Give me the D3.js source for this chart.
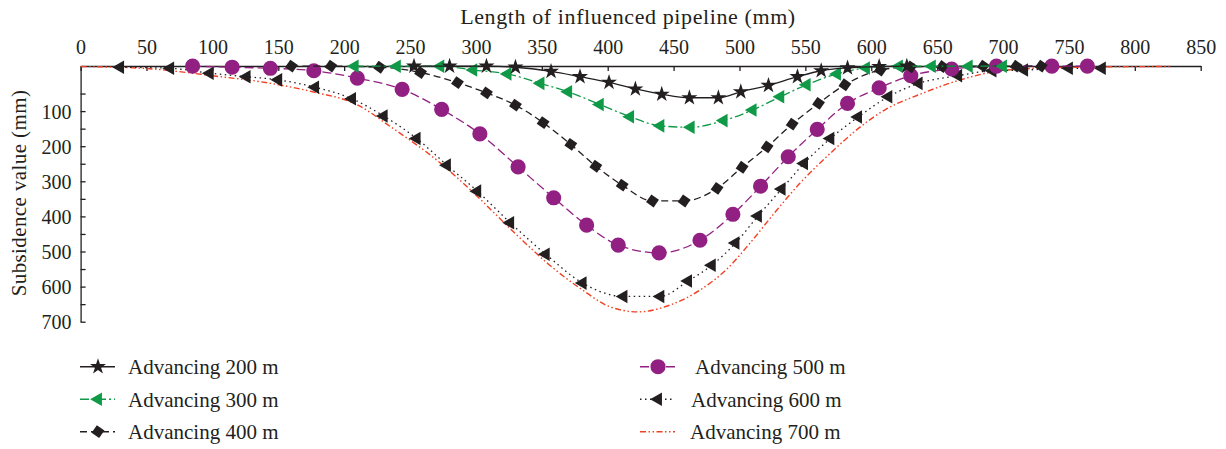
<!DOCTYPE html>
<html>
<head>
<meta charset="utf-8">
<script src="https://cdn.jsdelivr.net/npm/d3@7"></script>
<style>
  body { margin: 0; background: #fff; }
  svg { display: block; }
  text { font-family: "Liberation Serif", "DejaVu Serif", serif; fill: #231f20; }
</style>
</head>
<body>
<script>
// values (x: mm along pipeline, y: subsidence mm as on the labelled axis)
var xTicks = [0, 50, 100, 150, 200, 250, 300, 350, 400, 450, 500, 550, 600, 650, 700, 750, 800, 850];
var yTicks = [50, 100, 150, 200, 250, 300, 350, 400, 450, 500, 550, 600, 650, 700];
var seriesNames = ["Advancing 200 m", "Advancing 300 m", "Advancing 400 m",
                   "Advancing 500 m", "Advancing 600 m", "Advancing 700 m"];

var adv200X = [253, 280, 308, 330, 357, 379, 401, 421, 441, 462, 484, 501, 522, 544, 562, 582, 606, 627];
var adv200Y = [-28, -28, -28, -25, -13, 2, 18, 37, 52, 62, 62, 45, 27, 2, -15, -23, -27, -28];

var adv300X = [208, 240, 273, 298, 324, 349, 370, 394, 417, 440, 463, 488, 510, 531, 551, 574, 596, 621, 646, 674, 700];
var adv300Y = [-28, -28, -28, -17, -6, 21, 45, 81, 116, 142, 146, 127, 97, 59, 25, -6, -23, -28, -28, -28, -28];

var adv400X = [160, 190, 227, 258, 286, 308, 330, 351, 372, 391, 411, 434, 458, 483, 502, 521, 540, 560, 580, 607, 630, 654, 685, 710, 729];
var adv400Y = [-28, -28, -25, -10, 19, 48, 83, 133, 195, 257, 311, 356, 356, 320, 260, 202, 137, 78, 25, -17, -26, -27, -28, -28, -28];

var adv500X = [85, 115, 144, 177, 210, 244, 274, 303, 332, 359, 384, 408, 439, 470, 495, 516, 537, 559, 582, 606, 630, 661, 695, 737, 764];
var adv500Y = [-28, -25, -22, -15, 6, 38, 95, 165, 259, 347, 425, 482, 504, 468, 394, 314, 230, 152, 78, 34, -1, -20, -28, -28, -28];

var adv600X = [30, 68, 98, 126, 150, 178, 206, 230, 255, 278, 301, 326, 353, 381, 412, 440, 461, 479, 497, 514, 532, 549, 569, 590, 613, 636, 666, 692, 716, 750, 775];
var adv600Y = [-25, -22, -8, 2, 11, 32, 65, 114, 178, 254, 328, 418, 508, 590, 628, 628, 584, 539, 476, 399, 322, 249, 178, 117, 59, 21, -1, -15, -17, -22, -22];

var adv700X = [0, 47, 106, 136, 176, 210, 235, 273, 296, 331, 356, 381, 402, 423, 447, 470, 491, 508, 527, 546, 569, 590, 611, 637, 665, 690, 723, 774, 827];
var adv700Y = [-27, -22, 2, 16, 45, 82, 144, 248, 325, 453, 539, 610, 658, 672, 653, 610, 548, 476, 388, 305, 220, 150, 95, 52, 14, -10, -22, -26, -27];

function draw() {
    var w = 1226;
    var h = 449;
    var svg = d3.select("body")
        .append("svg")
        .attr("width", w)
        .attr("height", h);

    var x = d3.scaleLinear().domain([0, 850]).range([80.6, 1200.7]);
    // the labelled axis starts a little above zero, as in the source figure
    var y = d3.scaleLinear().domain([-28.5, 700]).range([66, 321.7]);

    var ink = "#231f20";
    var styles = [
        { xs: adv200X, ys: adv200Y, color: ink, dash: null, marker: "star" },
        { xs: adv300X, ys: adv300Y, color: "#109a48", dash: "9,3,2,3", marker: "tri" },
        { xs: adv400X, ys: adv400Y, color: ink, dash: "7,4", marker: "diamond" },
        { xs: adv500X, ys: adv500Y, color: "#921f82", dash: "9,4", marker: "circle" },
        { xs: adv600X, ys: adv600Y, color: ink, dash: "1.5,3.5", marker: "tri" },
        { xs: adv700X, ys: adv700Y, color: "#ef4123", dash: "6,2.5,1.5,2.5,1.5,2.5", marker: null }
    ];

    // axes
    var xAxis = d3.axisTop(x).tickValues(xTicks).tickSizeInner(-5).tickSizeOuter(0).tickPadding(12);
    var gx = svg.append("g").attr("transform", "translate(0,66)").call(xAxis);
    gx.selectAll("text").style("font-size", "20px").attr("fill", ink);

    var yAxis = d3.axisLeft(y).tickValues(yTicks).tickSizeInner(-5).tickSizeOuter(0).tickPadding(9)
        .tickFormat(function(d) { return d % 100 === 0 ? d : ""; });
    var gy = svg.append("g").attr("transform", "translate(80.6,0)").call(yAxis);
    gy.selectAll("text").style("font-size", "20px").attr("fill", ink).attr("dy", "0.35em");

    svg.selectAll(".domain, .tick line").attr("stroke", ink).attr("stroke-width", 1.3);

    svg.append("text")
        .attr("x", 628).attr("y", 24)
        .attr("text-anchor", "middle")
        .style("font-size", "22px")
        .style("letter-spacing", "0.6px")
        .text("Length of influenced pipeline (mm)");

    svg.append("text")
        .attr("transform", "translate(26,193) rotate(-90)")
        .attr("text-anchor", "middle")
        .style("font-size", "21px")
        .style("letter-spacing", "0.4px")
        .text("Subsidence value (mm)");

    var line = d3.line().curve(d3.curveMonotoneX);

    function markerPath(kind) {
        if (kind === "star") return d3.symbol(d3.symbolStar, 80)();
        if (kind === "tri") return d3.symbol(d3.symbolTriangle, 80)();
        if (kind === "diamond") return d3.symbol(d3.symbolSquare, 85)();
        if (kind === "circle") return d3.symbol(d3.symbolCircle, 180)();
        return null;
    }
    function markerRot(kind) {
        if (kind === "tri") return -90;
        if (kind === "diamond") return 35;
        return 0;
    }

    // draw series from the last to the first so the earlier ones sit on top
    styles.slice().reverse().forEach(function(s) {
        var pts = s.xs.map(function(v, i) { return [x(v), y(s.ys[i])]; });
        svg.append("path")
            .attr("d", line(pts))
            .attr("fill", "none")
            .attr("stroke", s.color)
            .attr("stroke-width", s.marker === null ? 1.4 : 1.3)
            .attr("stroke-dasharray", s.dash);
        if (s.marker) {
            svg.append("g").selectAll("path")
                .data(pts)
                .enter()
                .append("path")
                .attr("d", markerPath(s.marker))
                .attr("fill", s.color)
                .attr("transform", function(d) {
                    return "translate(" + d[0] + "," + d[1] + ") rotate(" + markerRot(s.marker) + ")";
                });
        }
    });

    // legend
    var legendPos = [
        { lx: 80, tx: 128, y: 366.7 },
        { lx: 80, tx: 128, y: 399.3 },
        { lx: 80, tx: 128, y: 431.7 },
        { lx: 640, tx: 695, y: 366.7 },
        { lx: 640, tx: 691, y: 399.3 },
        { lx: 640, tx: 690, y: 431.7 }
    ];
    styles.forEach(function(s, i) {
        var p = legendPos[i];
        var g = svg.append("g");
        g.append("line")
            .attr("x1", p.lx).attr("x2", p.lx + 35)
            .attr("y1", p.y).attr("y2", p.y)
            .attr("stroke", s.color)
            .attr("stroke-width", 1.4)
            .attr("stroke-dasharray", s.dash);
        if (s.marker) {
            g.append("path")
                .attr("d", markerPath(s.marker))
                .attr("fill", s.color)
                .attr("transform", "translate(" + (p.lx + 18) + "," + p.y + ") rotate(" + markerRot(s.marker) + ")");
        }
        g.append("text")
            .attr("x", p.tx).attr("y", p.y)
            .attr("dy", "0.35em")
            .style("font-size", "21px")
            .text(seriesNames[i]);
    });
}

window.onload = draw;
</script>
</body>
</html>
